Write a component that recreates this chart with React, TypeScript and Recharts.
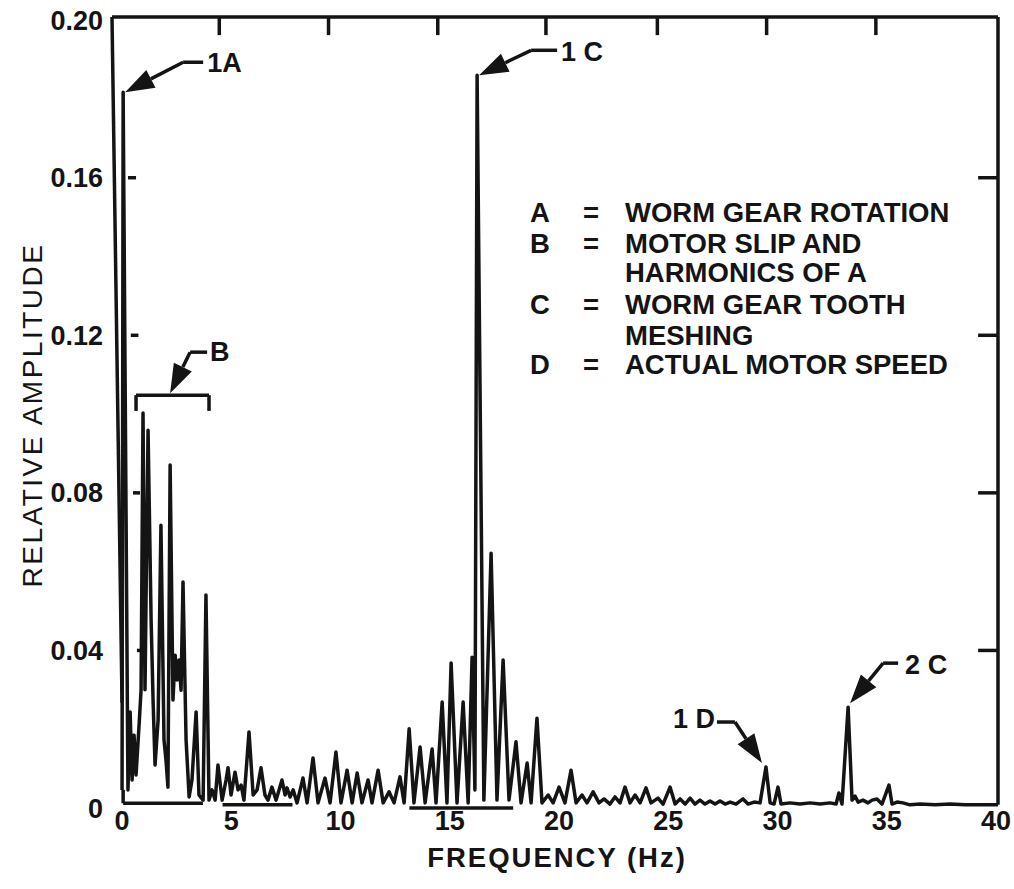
import React from 'react';
import { LineChart, Line, XAxis, YAxis, ReferenceLine, ReferenceDot } from 'recharts';

// ---------- data ----------
const freqHz = [
  0.0, 0.05, 0.27, 0.37, 0.46, 0.55, 0.64, 0.78, 0.87, 0.96, 1.05, 1.19, 1.33, 1.42, 1.51, 1.65, 1.78, 1.92, 2.01, 2.1,
  2.2, 2.33, 2.43, 2.52, 2.61, 2.7, 2.79, 2.93, 3.07, 3.2, 3.39, 3.52, 3.71, 3.84, 3.98, 4.12, 4.26, 4.39, 4.58, 4.76,
  4.85, 4.99, 5.17, 5.31, 5.45, 5.58, 5.81, 6.0, 6.18, 6.36, 6.54, 6.68, 6.86, 7.05, 7.32, 7.46, 7.55, 7.69, 7.83, 8.01,
  8.28, 8.47, 8.74, 8.97, 9.29, 9.52, 9.79, 10.02, 10.3, 10.53, 10.76, 10.98, 11.26, 11.44, 11.72, 11.95, 12.22, 12.45, 12.72, 12.91,
  13.14, 13.36, 13.64, 13.87, 14.19, 14.37, 14.65, 14.87, 15.06, 15.33, 15.61, 15.84, 16.02, 16.15, 16.25, 16.56, 16.89, 17.16, 17.44, 17.71,
  18.03, 18.26, 18.54, 18.72, 18.99, 19.22, 19.5, 19.73, 20.0, 20.27, 20.55, 20.78, 21.05, 21.28, 21.56, 21.83, 22.06, 22.33, 22.56, 22.79,
  23.02, 23.25, 23.48, 23.71, 23.98, 24.21, 24.53, 24.76, 25.08, 25.31, 25.54, 25.77, 26.0, 26.22, 26.45, 26.68, 26.91, 27.14, 27.37, 27.6,
  27.83, 28.1, 28.42, 28.65, 28.93, 29.2, 29.47, 29.66, 29.84, 30.02, 30.16, 30.57, 31.03, 31.49, 31.95, 32.4, 32.68, 32.81, 32.95, 33.23,
  33.41, 33.55, 33.69, 33.91, 34.14, 34.33, 34.55, 34.78, 35.1, 35.24, 35.47, 35.74, 36.06, 36.52, 37.21, 37.89, 38.58, 39.27, 40.09,
];
const amplitude = [
  0.0046, 0.1817, 0.0046, 0.0244, 0.0071, 0.0185, 0.0084, 0.0211, 0.0299, 0.1003, 0.03, 0.0959, 0.0477, 0.0274, 0.0109, 0.0223, 0.0718, 0.0173, 0.0122, 0.0053,
  0.0871, 0.0274, 0.0388, 0.0325, 0.0376, 0.0299, 0.0574, 0.0173, 0.0028, 0.0071, 0.0244, 0.0033, 0.002, 0.0541, 0.002, 0.0046, 0.002, 0.0109, 0.002, 0.0071,
  0.0102, 0.0033, 0.0091, 0.0046, 0.0058, 0.002, 0.0193, 0.0033, 0.0046, 0.0102, 0.0033, 0.002, 0.0053, 0.002, 0.0071, 0.0033, 0.0051, 0.0028, 0.0046, 0.0013,
  0.0076, 0.0013, 0.0127, 0.0013, 0.0076, 0.0013, 0.0142, 0.0013, 0.0096, 0.0013, 0.0089, 0.0013, 0.0071, 0.0013, 0.0096, 0.0013, 0.0041, 0.0013, 0.0079, 0.0013,
  0.0201, 0.0013, 0.0155, 0.0013, 0.015, 0.0013, 0.0269, 0.0013, 0.0368, 0.0013, 0.0269, 0.0013, 0.0383, 0.0046, 0.186, 0.002, 0.0647, 0.002, 0.0376, 0.002,
  0.0168, 0.0013, 0.0114, 0.0013, 0.0228, 0.0013, 0.0033, 0.0013, 0.0053, 0.0013, 0.0096, 0.0013, 0.0033, 0.0013, 0.0041, 0.0013, 0.0023, 0.001, 0.0028, 0.0013,
  0.0053, 0.0013, 0.0033, 0.0013, 0.0051, 0.0013, 0.0025, 0.001, 0.0053, 0.001, 0.0023, 0.001, 0.0025, 0.001, 0.002, 0.001, 0.0018, 0.001, 0.0018, 0.001,
  0.0015, 0.001, 0.0023, 0.001, 0.0015, 0.0013, 0.0104, 0.0013, 0.001, 0.0053, 0.001, 0.0013, 0.001, 0.0013, 0.001, 0.0013, 0.001, 0.0038, 0.001, 0.0256,
  0.002, 0.003, 0.0015, 0.002, 0.0013, 0.002, 0.0023, 0.001, 0.0058, 0.001, 0.0015, 0.0013, 0.0008, 0.001, 0.0008, 0.001, 0.0008, 0.0008, 0.0008,
];

const xTicks = [0, 5, 10, 15, 20, 25, 30, 35, 40];
const yTicks = [0, 0.04, 0.08, 0.12, 0.16, 0.2];
const topTickFreqs = [4.45, 9.45, 14.45, 19.4, 24.5, 29.5, 34.5];
const sideTickAmps = [0.04, 0.08, 0.12, 0.16];
const leftTickStart = [0.68, 0.5, 0.4, 0.27];
const leftTickEnd = [1.05, 0.82, 0.75, 0.64];

const legendKeys = ['A', 'B', '', 'C', '', 'D'];
const legendEq = ['=', '=', '', '=', '', '='];
const legendText = [
  'WORM GEAR ROTATION',
  'MOTOR SLIP AND',
  'HARMONICS OF A',
  'WORM GEAR TOOTH',
  'MESHING',
  'ACTUAL MOTOR SPEED',
];

const X_MIN = -0.46;
const X_MAX = 40.09;
const Y_MAX = 0.2008;

const data = freqHz.map((f, i) => ({ f, a: amplitude[i] }));

const FONT = '"Liberation Sans", Arial, Helvetica, sans-serif';
const INK = '#141414';
const SW = 3.5;

type ArrowCfg = {
  tipDx: number; tipDy: number; kneeDx: number; kneeDy: number; endDx: number;
  label: string; textDx: number; textDy: number; anchor: 'start' | 'end';
};

function makeArrow(cfg: ArrowCfg) {
  return (props: any) => {
    const { cx, cy } = props;
    if (cx == null || cy == null) return <g />;
    const tx = cx + cfg.tipDx;
    const ty = cy + cfg.tipDy;
    const kx = tx + cfg.kneeDx;
    const ky = ty + cfg.kneeDy;
    const ex = kx + cfg.endDx;
    const dx = tx - kx;
    const dy = ty - ky;
    const len = Math.sqrt(dx * dx + dy * dy);
    const ux = dx / len;
    const uy = dy / len;
    const L = 29;
    const W = 10;
    const bx = tx - ux * L;
    const by = ty - uy * L;
    const nx = -uy;
    const ny = ux;
    const pts = `${tx},${ty} ${bx + nx * W},${by + ny * W} ${bx - nx * W},${by - ny * W}`;
    return (
      <g>
        <line x1={kx} y1={ky} x2={bx} y2={by} stroke={INK} strokeWidth={SW} />
        <polygon points={pts} fill={INK} />
        <line x1={kx} y1={ky} x2={ex} y2={ky} stroke={INK} strokeWidth={SW} />
        <text
          x={ex + cfg.textDx}
          y={ky + cfg.textDy}
          textAnchor={cfg.anchor}
          dominantBaseline="central"
          fontFamily={FONT}
          fontWeight="bold"
          fontSize={27}
          fill={INK}
        >
          {cfg.label}
        </text>
      </g>
    );
  };
}

const arrow1A = makeArrow({ tipDx: 2, tipDy: 0, kneeDx: 58, kneeDy: -30, endDx: 20, label: '1A', textDx: 4, textDy: 1, anchor: 'start' });
const arrow1C = makeArrow({ tipDx: 2, tipDy: 0, kneeDx: 52, kneeDy: -25, endDx: 26, label: '1 C', textDx: 4, textDy: 2, anchor: 'start' });
const arrowB = makeArrow({ tipDx: 0, tipDy: -2, kneeDx: 20, kneeDy: -41, endDx: 17, label: 'B', textDx: 3, textDy: 0, anchor: 'start' });
const arrow1D = makeArrow({ tipDx: -4, tipDy: -4, kneeDx: -27, kneeDy: -41, endDx: -18, label: '1 D', textDx: -2, textDy: -3, anchor: 'end' });
const arrow2C = makeArrow({ tipDx: 2, tipDy: -4, kneeDx: 33, kneeDy: -40, endDx: 15, label: '2 C', textDx: 7, textDy: 2, anchor: 'start' });

const tickStyle = { fontFamily: FONT, fontWeight: 'bold', fontSize: 27, fill: INK } as any;

export default function App() {
  const rowY = [212, 243, 272, 304, 335, 364];
  return (
    <div style={{ position: 'absolute', left: 0, top: 0, width: 1014, height: 889, background: '#fff' }}>
      <LineChart
        width={1014}
        height={889}
        data={data}
        margin={{ top: 17, right: 16, bottom: 0, left: 0 }}
      >
        <XAxis
          dataKey="f"
          type="number"
          domain={[X_MIN, X_MAX]}
          allowDataOverflow
          ticks={xTicks}
          axisLine={false}
          tickLine={false}
          tickSize={0}
          tickMargin={3}
          height={81}
          tick={tickStyle}
        />
        <YAxis
          type="number"
          domain={[0, Y_MAX]}
          allowDataOverflow
          ticks={yTicks}
          tickFormatter={(v: number) => (v === 0 ? '0' : v.toFixed(2))}
          axisLine={false}
          tickLine={false}
          tickSize={0}
          tickMargin={9}
          width={112}
          tick={tickStyle}
        />
        {/* frame */}
        <ReferenceLine segment={[{ x: X_MIN, y: Y_MAX }, { x: X_MAX, y: Y_MAX }]} stroke={INK} strokeWidth={SW} ifOverflow="visible" />
        <ReferenceLine segment={[{ x: X_MAX, y: 0.0008 }, { x: X_MAX, y: Y_MAX }]} stroke={INK} strokeWidth={SW} ifOverflow="visible" />
        <ReferenceLine segment={[{ x: X_MIN, y: Y_MAX }, { x: 0.0, y: 0.0267 }]} stroke={INK} strokeWidth={SW} ifOverflow="visible" />
        {/* broken bottom baseline pieces */}
        <ReferenceLine segment={[{ x: 0.05, y: 0.0046 }, { x: 0.05, y: 0.0012 }]} stroke={INK} strokeWidth={SW} ifOverflow="visible" />
        <ReferenceLine segment={[{ x: 0.05, y: 0.0012 }, { x: 3.7, y: 0.0012 }]} stroke={INK} strokeWidth={SW} ifOverflow="visible" />
        <ReferenceLine segment={[{ x: 4.6, y: 0.0008 }, { x: 7.8, y: 0.0008 }]} stroke={INK} strokeWidth={SW} ifOverflow="visible" />
        <ReferenceLine segment={[{ x: 13.15, y: 0 }, { x: 17.9, y: 0 }]} stroke={INK} strokeWidth={SW} ifOverflow="visible" />
        {/* inward ticks */}
        {topTickFreqs.map((f) => (
          <ReferenceLine key={`t${f}`} segment={[{ x: f, y: Y_MAX }, { x: f, y: 0.1962 }]} stroke={INK} strokeWidth={SW} ifOverflow="visible" />
        ))}
        {sideTickAmps.map((a) => (
          <ReferenceLine key={`r${a}`} segment={[{ x: 39.18, y: a }, { x: X_MAX, y: a }]} stroke={INK} strokeWidth={SW} ifOverflow="visible" />
        ))}
        {sideTickAmps.map((a, i) => (
          <ReferenceLine key={`l${a}`} segment={[{ x: leftTickStart[i], y: a }, { x: leftTickEnd[i], y: a }]} stroke={INK} strokeWidth={SW} ifOverflow="visible" />
        ))}
        {/* bracket for B */}
        <ReferenceLine segment={[{ x: 0.64, y: 0.1048 }, { x: 3.98, y: 0.1048 }]} stroke={INK} strokeWidth={SW} ifOverflow="visible" />
        <ReferenceLine segment={[{ x: 0.64, y: 0.1048 }, { x: 0.64, y: 0.1008 }]} stroke={INK} strokeWidth={SW} ifOverflow="visible" />
        <ReferenceLine segment={[{ x: 3.98, y: 0.1048 }, { x: 3.98, y: 0.1008 }]} stroke={INK} strokeWidth={SW} ifOverflow="visible" />

        <Line
          type="linear"
          dataKey="a"
          stroke={INK}
          strokeWidth={SW}
          dot={false}
          strokeLinejoin="round"
          isAnimationActive={false}
        />

        <ReferenceDot x={0.05} y={0.1817} r={0} shape={arrow1A} ifOverflow="visible" />
        <ReferenceDot x={16.25} y={0.186} r={0} shape={arrow1C} ifOverflow="visible" />
        <ReferenceDot x={2.2} y={0.1048} r={0} shape={arrowB} ifOverflow="visible" />
        <ReferenceDot x={29.47} y={0.0104} r={0} shape={arrow1D} ifOverflow="visible" />
        <ReferenceDot x={33.23} y={0.0256} r={0} shape={arrow2C} ifOverflow="visible" />
      </LineChart>

      <svg
        width={1014}
        height={889}
        style={{ position: 'absolute', left: 0, top: 0, pointerEvents: 'none' }}
      >
        <text
          x={32}
          y={415}
          transform="rotate(-90 32 415)"
          textAnchor="middle"
          dominantBaseline="central"
          fontFamily={FONT}
          fontSize={28}
          letterSpacing={2.5}
          fill={INK}
        >
          RELATIVE AMPLITUDE
        </text>
        <text
          x={557}
          y={857}
          textAnchor="middle"
          dominantBaseline="central"
          fontFamily={FONT}
          fontWeight="bold"
          fontSize={27.5}
          letterSpacing={2}
          fill={INK}
        >
          FREQUENCY (Hz)
        </text>
        {legendText.map((t, i) => (
          <g key={t}>
            {legendKeys[i] ? (
              <text x={540} y={rowY[i]} textAnchor="middle" dominantBaseline="central" fontFamily={FONT} fontWeight="bold" fontSize={27.5} fill={INK}>
                {legendKeys[i]}
              </text>
            ) : null}
            {legendEq[i] ? (
              <text x={591} y={rowY[i]} textAnchor="middle" dominantBaseline="central" fontFamily={FONT} fontWeight="bold" fontSize={27.5} fill={INK}>
                {legendEq[i]}
              </text>
            ) : null}
            <text x={625} y={rowY[i]} textAnchor="start" dominantBaseline="central" fontFamily={FONT} fontWeight="bold" fontSize={27.5} fill={INK}>
              {t}
            </text>
          </g>
        ))}
      </svg>
    </div>
  );
}
